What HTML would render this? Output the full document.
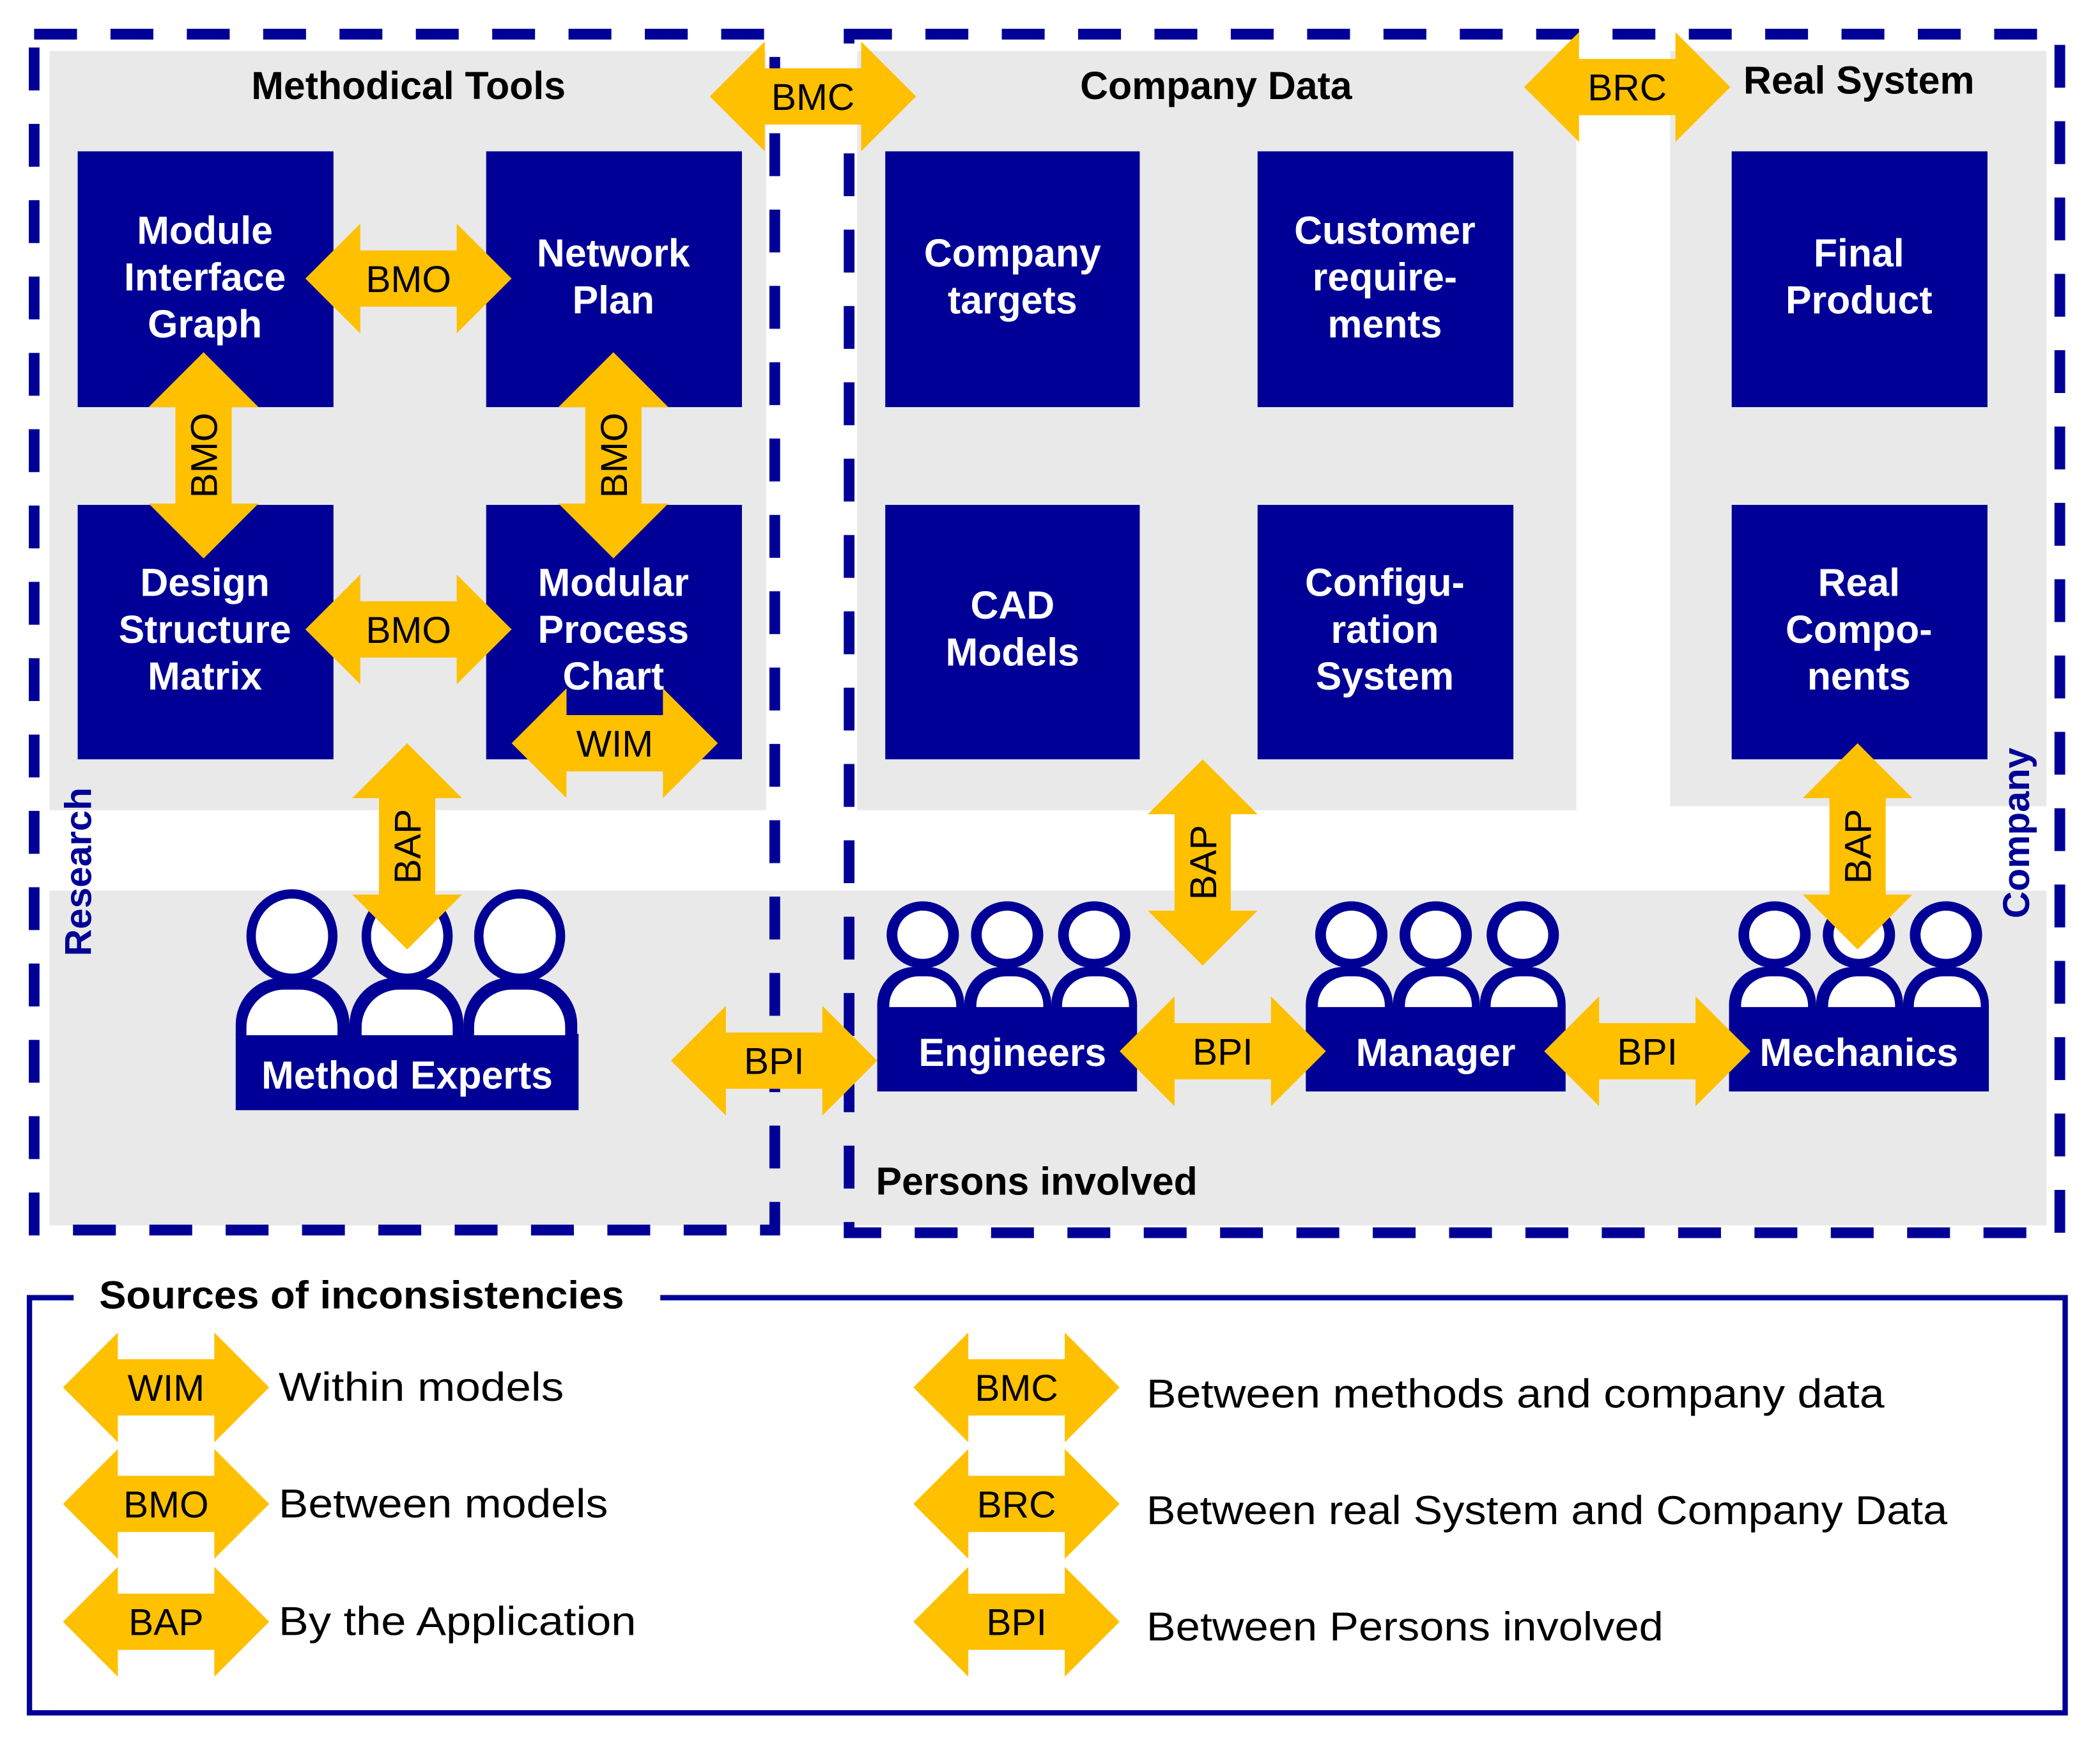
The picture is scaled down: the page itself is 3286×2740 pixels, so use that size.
<!DOCTYPE html>
<html><head><meta charset="utf-8"><style>
html,body{margin:0;padding:0;background:#fff;}
svg{display:block;}
text{font-family:"Liberation Sans",sans-serif;}
.t{font-weight:bold;font-size:29px;fill:#fff;text-anchor:middle;}
.h{font-weight:bold;font-size:29px;fill:#000;text-anchor:middle;}
.a{font-size:28px;fill:#000;text-anchor:middle;}
.l{font-size:30px;fill:#000;}
.p{font-weight:bold;font-size:29px;fill:#fff;text-anchor:middle;}
</style></head><body>
<svg width="3286" height="2740" viewBox="0 0 1568 1307.5" preserveAspectRatio="none" xmlns="http://www.w3.org/2000/svg">
<defs>
<polygon id="ar" points="-77,0 -36,-41 -36,-21 36,-21 36,-41 77,0 36,41 36,21 -36,21 -36,41"/>
</defs>
<rect width="1568" height="1308" fill="#fff"/>
<g fill="#e9e9e9">
<rect x="37" y="38" width="535" height="567"/>
<rect x="640" y="38" width="537" height="567"/>
<rect x="1247" y="38" width="281" height="564"/>
<rect x="37" y="665" width="1491" height="250"/>
</g>
<g fill="none" stroke="#000096" stroke-width="8" stroke-dasharray="32 25">
<rect x="25.5" y="25.5" width="553" height="893"/>
<rect x="634" y="25.5" width="904" height="895"/>
</g>
<g fill="#000096">
<rect x="58" y="113" width="191" height="191"/>
<rect x="363" y="113" width="191" height="191"/>
<rect x="58" y="377" width="191" height="190"/>
<rect x="363" y="377" width="191" height="190"/>
<rect x="661" y="113" width="190" height="191"/>
<rect x="939" y="113" width="191" height="191"/>
<rect x="1293" y="113" width="191" height="191"/>
<rect x="661" y="377" width="190" height="190"/>
<rect x="939" y="377" width="191" height="190"/>
<rect x="1293" y="377" width="191" height="190"/>
</g>
<g class="t">
<text x="153" y="182" class="t">Module</text><text x="153" y="217" class="t">Interface</text><text x="153" y="252" class="t">Graph</text>
<text x="458" y="199" class="t">Network</text><text x="458" y="234" class="t">Plan</text>
<text x="153" y="445" class="t">Design</text><text x="153" y="480" class="t">Structure</text><text x="153" y="515" class="t">Matrix</text>
<text x="458" y="445" class="t">Modular</text><text x="458" y="480" class="t">Process</text><text x="458" y="515" class="t">Chart</text>
<text x="756" y="199" class="t">Company</text><text x="756" y="234" class="t">targets</text>
<text x="1034" y="182" class="t">Customer</text><text x="1034" y="217" class="t">require-</text><text x="1034" y="252" class="t">ments</text>
<text x="1388" y="199" class="t">Final</text><text x="1388" y="234" class="t">Product</text>
<text x="756" y="462" class="t">CAD</text><text x="756" y="497" class="t">Models</text>
<text x="1034" y="445" class="t">Configu-</text><text x="1034" y="480" class="t">ration</text><text x="1034" y="515" class="t">System</text>
<text x="1388" y="445" class="t">Real</text><text x="1388" y="480" class="t">Compo-</text><text x="1388" y="515" class="t">nents</text>
</g>
<text x="305" y="74" class="h">Methodical Tools</text>
<text x="908" y="74" class="h">Company Data</text>
<text x="1388" y="70" class="h">Real System</text>
<text x="654" y="892" class="h" style="text-anchor:start">Persons involved</text>
<text transform="translate(68,651) rotate(-90)" style="font-weight:bold;font-size:28px;fill:#000096;text-anchor:middle">Research</text>
<text transform="translate(1515,622) rotate(-90)" style="font-weight:bold;font-size:28px;fill:#000096;text-anchor:middle">Company</text>

<g fill="#000096">
<path d="M176,773 V765 a35,35 0 0 1 35,-35 h15 a35,35 0 0 1 35,35 V773 Z"/>
<path d="M261,773 V765 a35,35 0 0 1 35,-35 h15 a35,35 0 0 1 35,35 V773 Z"/>
<path d="M346,773 V765 a35,35 0 0 1 35,-35 h15 a35,35 0 0 1 35,35 V773 Z"/>
<ellipse cx="218" cy="699" rx="34" ry="35"/><ellipse cx="304" cy="699" rx="34" ry="35"/><ellipse cx="388" cy="699" rx="34" ry="35"/>
<rect x="176" y="772" width="256" height="57"/>
</g>
<g fill="#fff">
<path d="M184,773 V767 a28,28 0 0 1 28,-28 h12 a28,28 0 0 1 28,28 V773 Z"/>
<path d="M270,773 V767 a28,28 0 0 1 28,-28 h12 a28,28 0 0 1 28,28 V773 Z"/>
<path d="M354,773 V767 a28,28 0 0 1 28,-28 h12 a28,28 0 0 1 28,28 V773 Z"/>
<ellipse cx="218" cy="699" rx="27" ry="28"/><ellipse cx="304" cy="699" rx="27" ry="28"/><ellipse cx="388" cy="699" rx="27" ry="28"/>
</g>
<text x="304" y="813" class="p">Method Experts</text>

<g id="grp">
<g fill="#000096">
<path d="M655,752 V750 a28,28 0 0 1 28,-28 h9 a28,28 0 0 1 28,28 V752 Z"/>
<path d="M720,752 V750 a28,28 0 0 1 28,-28 h9 a28,28 0 0 1 28,28 V752 Z"/>
<path d="M785,752 V750 a28,28 0 0 1 28,-28 h8 a28,28 0 0 1 28,28 V752 Z"/>
<ellipse cx="689" cy="698" rx="27" ry="25"/><ellipse cx="752" cy="698" rx="27" ry="25"/><ellipse cx="817" cy="698" rx="27" ry="25"/>
<rect x="655" y="751" width="194" height="64"/>
</g>
<g fill="#fff">
<path d="M664,752 V751 a22,22 0 0 1 22,-22 h6 a22,22 0 0 1 22,22 V752 Z"/>
<path d="M729,752 V751 a22,22 0 0 1 22,-22 h6 a22,22 0 0 1 22,22 V752 Z"/>
<path d="M793,752 V751 a22,22 0 0 1 22,-22 h6 a22,22 0 0 1 22,22 V752 Z"/>
<ellipse cx="689" cy="698" rx="19" ry="18"/><ellipse cx="752" cy="698" rx="19" ry="18"/><ellipse cx="817" cy="698" rx="19" ry="18"/>
</g>
</g>
<use href="#grp" x="320"/>
<use href="#grp" x="636"/>
<text x="756" y="796" class="p">Engineers</text>
<text x="1072" y="796" class="p">Manager</text>
<text x="1388" y="796" class="p">Mechanics</text>

<g fill="#ffc000">
<use href="#ar" x="305" y="208"/>
<use href="#ar" x="305" y="470"/>
<use href="#ar" transform="translate(152,340) rotate(90)"/>
<use href="#ar" transform="translate(458,340) rotate(90)"/>
<use href="#ar" x="459" y="555"/>
<use href="#ar" transform="translate(304,632) rotate(90)"/>
<use href="#ar" x="607" y="72"/>
<use href="#ar" x="1215" y="65"/>
<use href="#ar" transform="translate(898,644) rotate(90)"/>
<use href="#ar" transform="translate(1387,632) rotate(90)"/>
<use href="#ar" x="578" y="792"/>
<use href="#ar" x="913" y="785"/>
<use href="#ar" x="1230" y="785"/>
<use href="#ar" x="124" y="1036"/>
<use href="#ar" x="124" y="1123"/>
<use href="#ar" x="124" y="1211"/>
<use href="#ar" x="759" y="1036"/>
<use href="#ar" x="759" y="1123"/>
<use href="#ar" x="759" y="1211"/>
</g>
<g class="a">
<text x="305" y="218" class="a">BMO</text>
<text x="305" y="480" class="a">BMO</text>
<text transform="translate(162,340) rotate(-90)" class="a">BMO</text>
<text transform="translate(468,340) rotate(-90)" class="a">BMO</text>
<text x="459" y="565" class="a">WIM</text>
<text transform="translate(314,632) rotate(-90)" class="a">BAP</text>
<text x="607" y="82" class="a">BMC</text>
<text x="1215" y="75" class="a">BRC</text>
<text transform="translate(908,644) rotate(-90)" class="a">BAP</text>
<text transform="translate(1397,632) rotate(-90)" class="a">BAP</text>
<text x="578" y="802" class="a">BPI</text>
<text x="913" y="795" class="a">BPI</text>
<text x="1230" y="795" class="a">BPI</text>
<text x="124" y="1046" class="a">WIM</text>
<text x="124" y="1133" class="a">BMO</text>
<text x="124" y="1221" class="a">BAP</text>
<text x="759" y="1046" class="a">BMC</text>
<text x="759" y="1133" class="a">BRC</text>
<text x="759" y="1221" class="a">BPI</text>
</g>

<rect x="22" y="969" width="1520" height="310" fill="none" stroke="#000096" stroke-width="4"/>
<rect x="55" y="960" width="438" height="20" fill="#fff"/>
<text x="74" y="977" style="font-weight:bold;font-size:29px;fill:#000" textLength="392" lengthAdjust="spacingAndGlyphs">Sources of inconsistencies</text>
<text x="208" y="1046" class="l" textLength="213" lengthAdjust="spacingAndGlyphs">Within models</text>
<text x="208" y="1133" class="l" textLength="246" lengthAdjust="spacingAndGlyphs">Between models</text>
<text x="208" y="1221" class="l" textLength="267" lengthAdjust="spacingAndGlyphs">By the Application</text>
<text x="856" y="1051" class="l" textLength="551" lengthAdjust="spacingAndGlyphs">Between methods and company data</text>
<text x="856" y="1138" class="l" textLength="598" lengthAdjust="spacingAndGlyphs">Between real System and Company Data</text>
<text x="856" y="1225" class="l" textLength="386" lengthAdjust="spacingAndGlyphs">Between Persons involved</text>
</svg>
</body></html>
